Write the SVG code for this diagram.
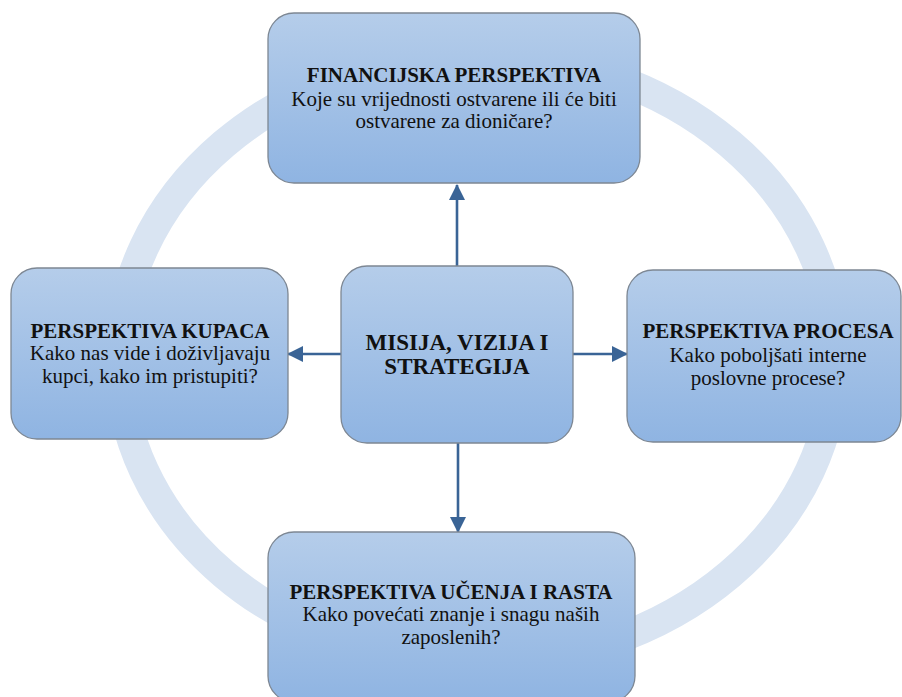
<svg xmlns="http://www.w3.org/2000/svg" width="902" height="697" viewBox="0 0 902 697">
<defs>
<linearGradient id="g" x1="0" y1="0" x2="0" y2="1">
<stop offset="0" stop-color="#b5cdea"/>
<stop offset="1" stop-color="#8fb4e2"/>
</linearGradient>
<marker id="ah" viewBox="0 0 16 16" refX="15" refY="8" markerWidth="16" markerHeight="16" markerUnits="userSpaceOnUse" orient="auto">
<path d="M0,0 L16,8 L0,16 Z" fill="#3a6496"/>
</marker>
<style>
.box{fill:url(#g);stroke:#7d8793;stroke-width:1.3}
.t{font-family:"Liberation Serif","Times New Roman",serif;font-size:21px;fill:#111;text-anchor:middle}
.b{font-weight:bold}
.c{font-size:23px}
.conn{stroke:#3a6496;stroke-width:2.6;fill:none}
</style>
</defs>
<rect width="902" height="697" fill="#fff"/>
<ellipse id="ring" cx="477" cy="359" rx="358" ry="304" fill="none" stroke="#d9e4f2" stroke-width="30"/>
<g id="connectors">
<line class="conn" x1="457" y1="266" x2="457" y2="185" marker-end="url(#ah)"/>
<line class="conn" x1="341" y1="354" x2="288" y2="354" marker-end="url(#ah)"/>
<line class="conn" x1="573" y1="354" x2="627" y2="354" marker-end="url(#ah)"/>
<line class="conn" x1="458" y1="443" x2="458" y2="532" marker-end="url(#ah)"/>
</g>
<g id="financijska">
<rect class="box" x="268" y="13" width="372" height="170" rx="26"/>
<text class="t b" x="454" y="82">FINANCIJSKA PERSPEKTIVA</text>
<text class="t" x="454" y="106">Koje su vrijednosti ostvarene ili će biti</text>
<text class="t" x="454" y="128">ostvarene za dioničare?</text>
</g>
<g id="kupci">
<rect class="box" x="11" y="268" width="277" height="171" rx="26"/>
<text class="t b" x="150" y="338">PERSPEKTIVA KUPACA</text>
<text class="t" x="150" y="360">Kako nas vide i doživljavaju</text>
<text class="t" x="150" y="383">kupci, kako im pristupiti?</text>
</g>
<g id="misija">
<rect class="box" x="341" y="266" width="232" height="177" rx="26"/>
<text class="t b c" x="457" y="350">MISIJA, VIZIJA I</text>
<text class="t b c" x="457" y="374">STRATEGIJA</text>
</g>
<g id="procesi">
<rect class="box" x="627" y="270" width="274" height="172" rx="26"/>
<text class="t b" x="768" y="338">PERSPEKTIVA PROCESA</text>
<text class="t" x="768" y="362">Kako poboljšati interne</text>
<text class="t" x="768" y="385">poslovne procese?</text>
</g>
<g id="ucenje">
<rect class="box" x="268" y="532" width="367" height="170" rx="26"/>
<text class="t b" x="451" y="599">PERSPEKTIVA UČENJA I RASTA</text>
<text class="t" x="451" y="621">Kako povećati znanje i snagu naših</text>
<text class="t" x="451" y="644">zaposlenih?</text>
</g>
</svg>
